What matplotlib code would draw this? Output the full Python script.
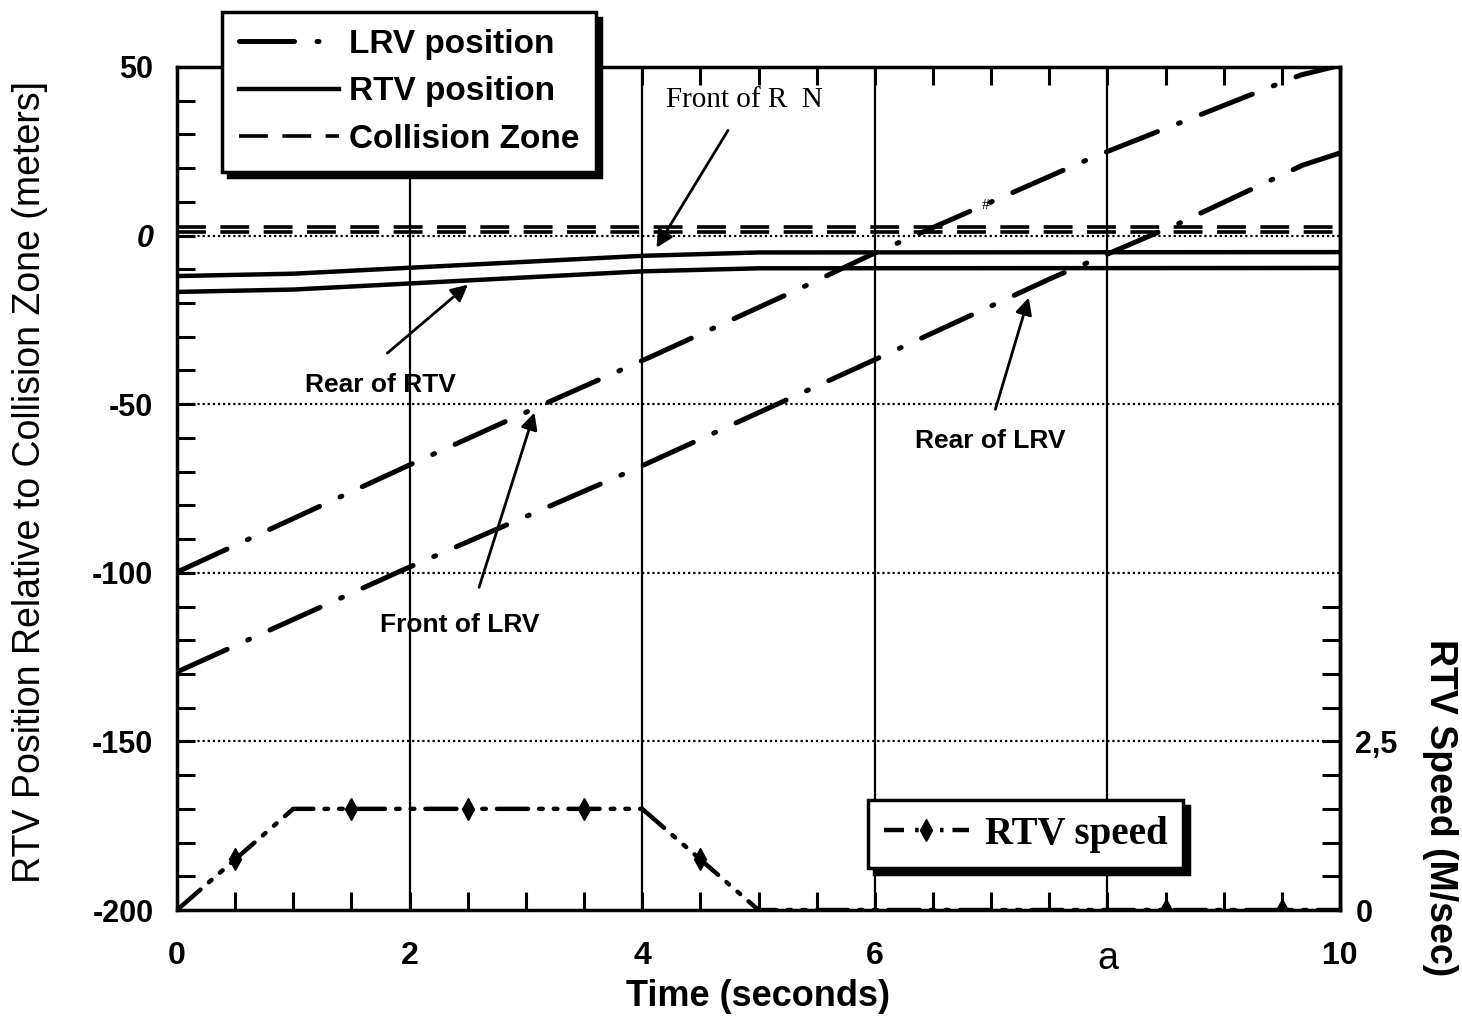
import matplotlib
matplotlib.use("Agg")
from matplotlib import pyplot as plt
from matplotlib.lines import Line2D
from matplotlib.ticker import MultipleLocator, FixedLocator

# LRV position (front / rear) relative to collision zone, metres
lrv_front_t = [0, 2, 3.18, 4.07, 5.33, 5.96, 7.88, 9.66, 10]
lrv_front_y = [-99.8, -68.0, -49.6, -36.0, -16.1, -5.8, 23.3, 47.6, 50.5]
lrv_rear_t = [0, 1.94, 3.92, 6.05, 7.52, 8.62, 9.68, 10]
lrv_rear_y = [-129.4, -99.2, -69.5, -36.0, -12.6, 3.7, 20.9, 24.5]

# RTV position (front / rear)
rtv_t = [0, 1, 4, 5, 10]
rtv_front_y = [-12.0, -11.3, -6.0, -5.0, -4.9]
rtv_rear_y = [-16.7, -16.0, -10.6, -9.7, -9.6]

# collision zone edges
zone_t = [0, 10]
zone_low = [1.0, 1.0]
zone_high = [2.5, 2.5]

# RTV speed (m/s)
speed_t = [0, 1, 4, 5, 10]
speed_v = [0, 1.5, 1.5, 0, 0]
speed_mark_t = [0.5, 1.5, 2.5, 3.5, 4.5, 8.5, 9.5]
speed_mark_v = [0.75, 1.5, 1.5, 1.5, 0.75, 0, 0]

x_ticks = [0, 2, 4, 6, 8, 10]
x_ticklabels = ["0", "2", "4", "6", "a", "10"]
y_ticks = [-200, -150, -100, -50, 0, 50]
grid_y = [0, -50, -100, -150]
grid_x = [2, 4, 6, 8]

plt.rcParams["font.family"] = ["Liberation Sans", "DejaVu Sans"]
plt.rcParams["axes.unicode_minus"] = False
narrow = ["Liberation Sans Narrow", "Liberation Sans", "DejaVu Sans"]
W, H = 1462, 1022
fig = plt.figure(figsize=(W / 100, H / 100), dpi=100)
ax = fig.add_axes([177 / W, 1 - 910 / H, (1340 - 177) / W, (910 - 67) / H])
ax.set_xlim(0, 10)
ax.set_ylim(-200, 50)

# grid
for gy in grid_y:
    ax.axhline(gy, color="black", lw=1.6, ls=(0, (1, 1.3)), zorder=1)
for gx in grid_x:
    ax.axvline(gx, color="black", lw=1.6, zorder=1)

lrv_ls = (0, (11, 4.5, 0.4, 4.5))
(h_lrv,) = ax.plot(lrv_front_t, lrv_front_y, color="black", lw=3.6, ls=lrv_ls,
                   dash_capstyle="round")
ax.plot(lrv_rear_t, lrv_rear_y, color="black", lw=3.6, ls=lrv_ls, dash_capstyle="round")
(h_rtv,) = ax.plot(rtv_t, rtv_front_y, color="black", lw=3.2)
ax.plot(rtv_t, rtv_rear_y, color="black", lw=3.2)
(h_zone,) = ax.plot(zone_t, zone_high, color="black", lw=2.6, ls=(0, (8, 4)))
ax.plot(zone_t, zone_low, color="black", lw=2.6, ls=(0, (8, 4)))

# ticks
ax.set_xticks(x_ticks)
ax.set_xticklabels(x_ticklabels)
ax.set_yticks(y_ticks)
ax.xaxis.set_minor_locator(MultipleLocator(0.5))
ax.yaxis.set_minor_locator(MultipleLocator(10))
ax.tick_params(axis="both", which="both", direction="in", width=2.2, length=13,
               top=True, right=False)
ax.tick_params(axis="x", which="major", pad=22, labelsize=23)
ax.tick_params(axis="y", which="major", pad=17, labelsize=22)
for lab in ax.get_xticklabels() + ax.get_yticklabels():
    lab.set_fontweight("bold")
for lab in ax.get_xticklabels():
    if lab.get_text() == "a":
        lab.set_fontweight("normal")
        lab.set_fontsize(27)
for lab in ax.get_yticklabels():
    if lab.get_text() == "0":
        lab.set_fontstyle("italic")
for sp in ax.spines.values():
    sp.set_linewidth(2.5)

# speed on the right axis
ax2 = ax.twinx()
ax2.set_ylim(0, 12.5)
speed_ls = (0, (7, 2.5, 0.8, 2.5, 0.8, 2.5))
ax2.plot(speed_t, speed_v, color="black", lw=3.2, ls=speed_ls, dash_capstyle="round")
ax2.plot(speed_mark_t, speed_mark_v, ls="none", marker="d", ms=11, color="black")
ax2.yaxis.set_major_locator(FixedLocator([0, 2.5]))
ax2.yaxis.set_minor_locator(FixedLocator([0.5, 1, 1.5, 2, 3, 3.5, 4, 4.5]))
ax2.set_yticklabels(["0", "2,5"])
ax2.tick_params(axis="y", which="both", direction="in", width=2.2, length=13, pad=11,
                labelsize=22)
for lab in ax2.get_yticklabels():
    lab.set_fontweight("bold")
for side in ["top", "left", "bottom"]:
    ax2.spines[side].set_visible(False)
ax2.spines["right"].set_linewidth(2.5)

# annotations
arrow = dict(arrowstyle="-|>", color="black", lw=2, mutation_scale=25)
ax.annotate("", xy=(4.11, -4.3), xytext=(4.75, 31.9), arrowprops=arrow)
ax.text(4.88, 40.2, "Front of R  N", family=["Liberation Serif"], fontsize=21,
        ha="center", va="center")
ax.annotate("", xy=(2.52, -14), xytext=(1.79, -35.4), arrowprops=arrow)
ax.text(1.75, -44.3, "Rear of RTV", family=narrow, fontweight="bold", fontsize=19,
        ha="center", va="center")
ax.annotate("", xy=(3.08, -51.7), xytext=(2.59, -105.1), arrowprops=arrow)
ax.text(2.43, -115.5, "Front of LRV", family=narrow, fontweight="bold", fontsize=19,
        ha="center", va="center")
ax.annotate("", xy=(7.33, -17.6), xytext=(7.03, -52.3), arrowprops=arrow)
ax.text(6.99, -60.9, "Rear of LRV", family=narrow, fontweight="bold", fontsize=19,
        ha="center", va="center")
ax.text(6.95, 9, "#", family=["Liberation Serif"], fontsize=11, ha="center", va="center")

# axis labels
fig.text(758 / W, 1 - 996 / H, "Time (seconds)", fontsize=26, fontweight="bold",
         ha="center", va="center")
fig.text(30 / W, 1 - 482 / H, "RTV Position Relative to Collision Zone (meters]",
         family=narrow, fontsize=27, rotation=90, ha="center", va="center")
fig.text(1440 / W, 1 - 808 / H, "RTV Speed (M/sec)", fontsize=27, fontweight="bold",
         rotation=-90, ha="center", va="center")

# legends
shadow = {"ox": 4, "oy": -4, "color": "black", "alpha": 1}
leg1 = ax2.legend([h_lrv, h_rtv, h_zone], ["LRV position", "RTV position", "Collision Zone"],
                  loc="upper left", bbox_to_anchor=(222 / W, 1 - 12 / H),
                  bbox_transform=fig.transFigure, prop=dict(size=24, weight="bold"),
                  handlelength=3.0, handletextpad=0.3, labelspacing=0.5, borderpad=0.5,
                  borderaxespad=0, fancybox=False, framealpha=1, edgecolor="black",
                  shadow=shadow)
leg1.get_frame().set_linewidth(2.5)
ax2.add_artist(leg1)

h_speed = Line2D([], [], color="black", lw=3.2, ls=(0, (4.5, 2.5, 0.8, 2, 0.8, 2, 0.8, 2)),
                 marker="d", ms=11)
leg2 = ax2.legend([h_speed], ["RTV speed"], loc="upper left",
                  bbox_to_anchor=(868 / W, 1 - 800 / H), bbox_transform=fig.transFigure,
                  prop=dict(family="Liberation Serif", size=28, weight="bold"),
                  handlelength=2.2, handletextpad=0.4, borderpad=0.4, numpoints=1,
                  borderaxespad=0, fancybox=False, framealpha=1, edgecolor="black",
                  shadow=shadow)
leg2.get_frame().set_linewidth(2.5)

fig.savefig("out.png", dpi=100)
